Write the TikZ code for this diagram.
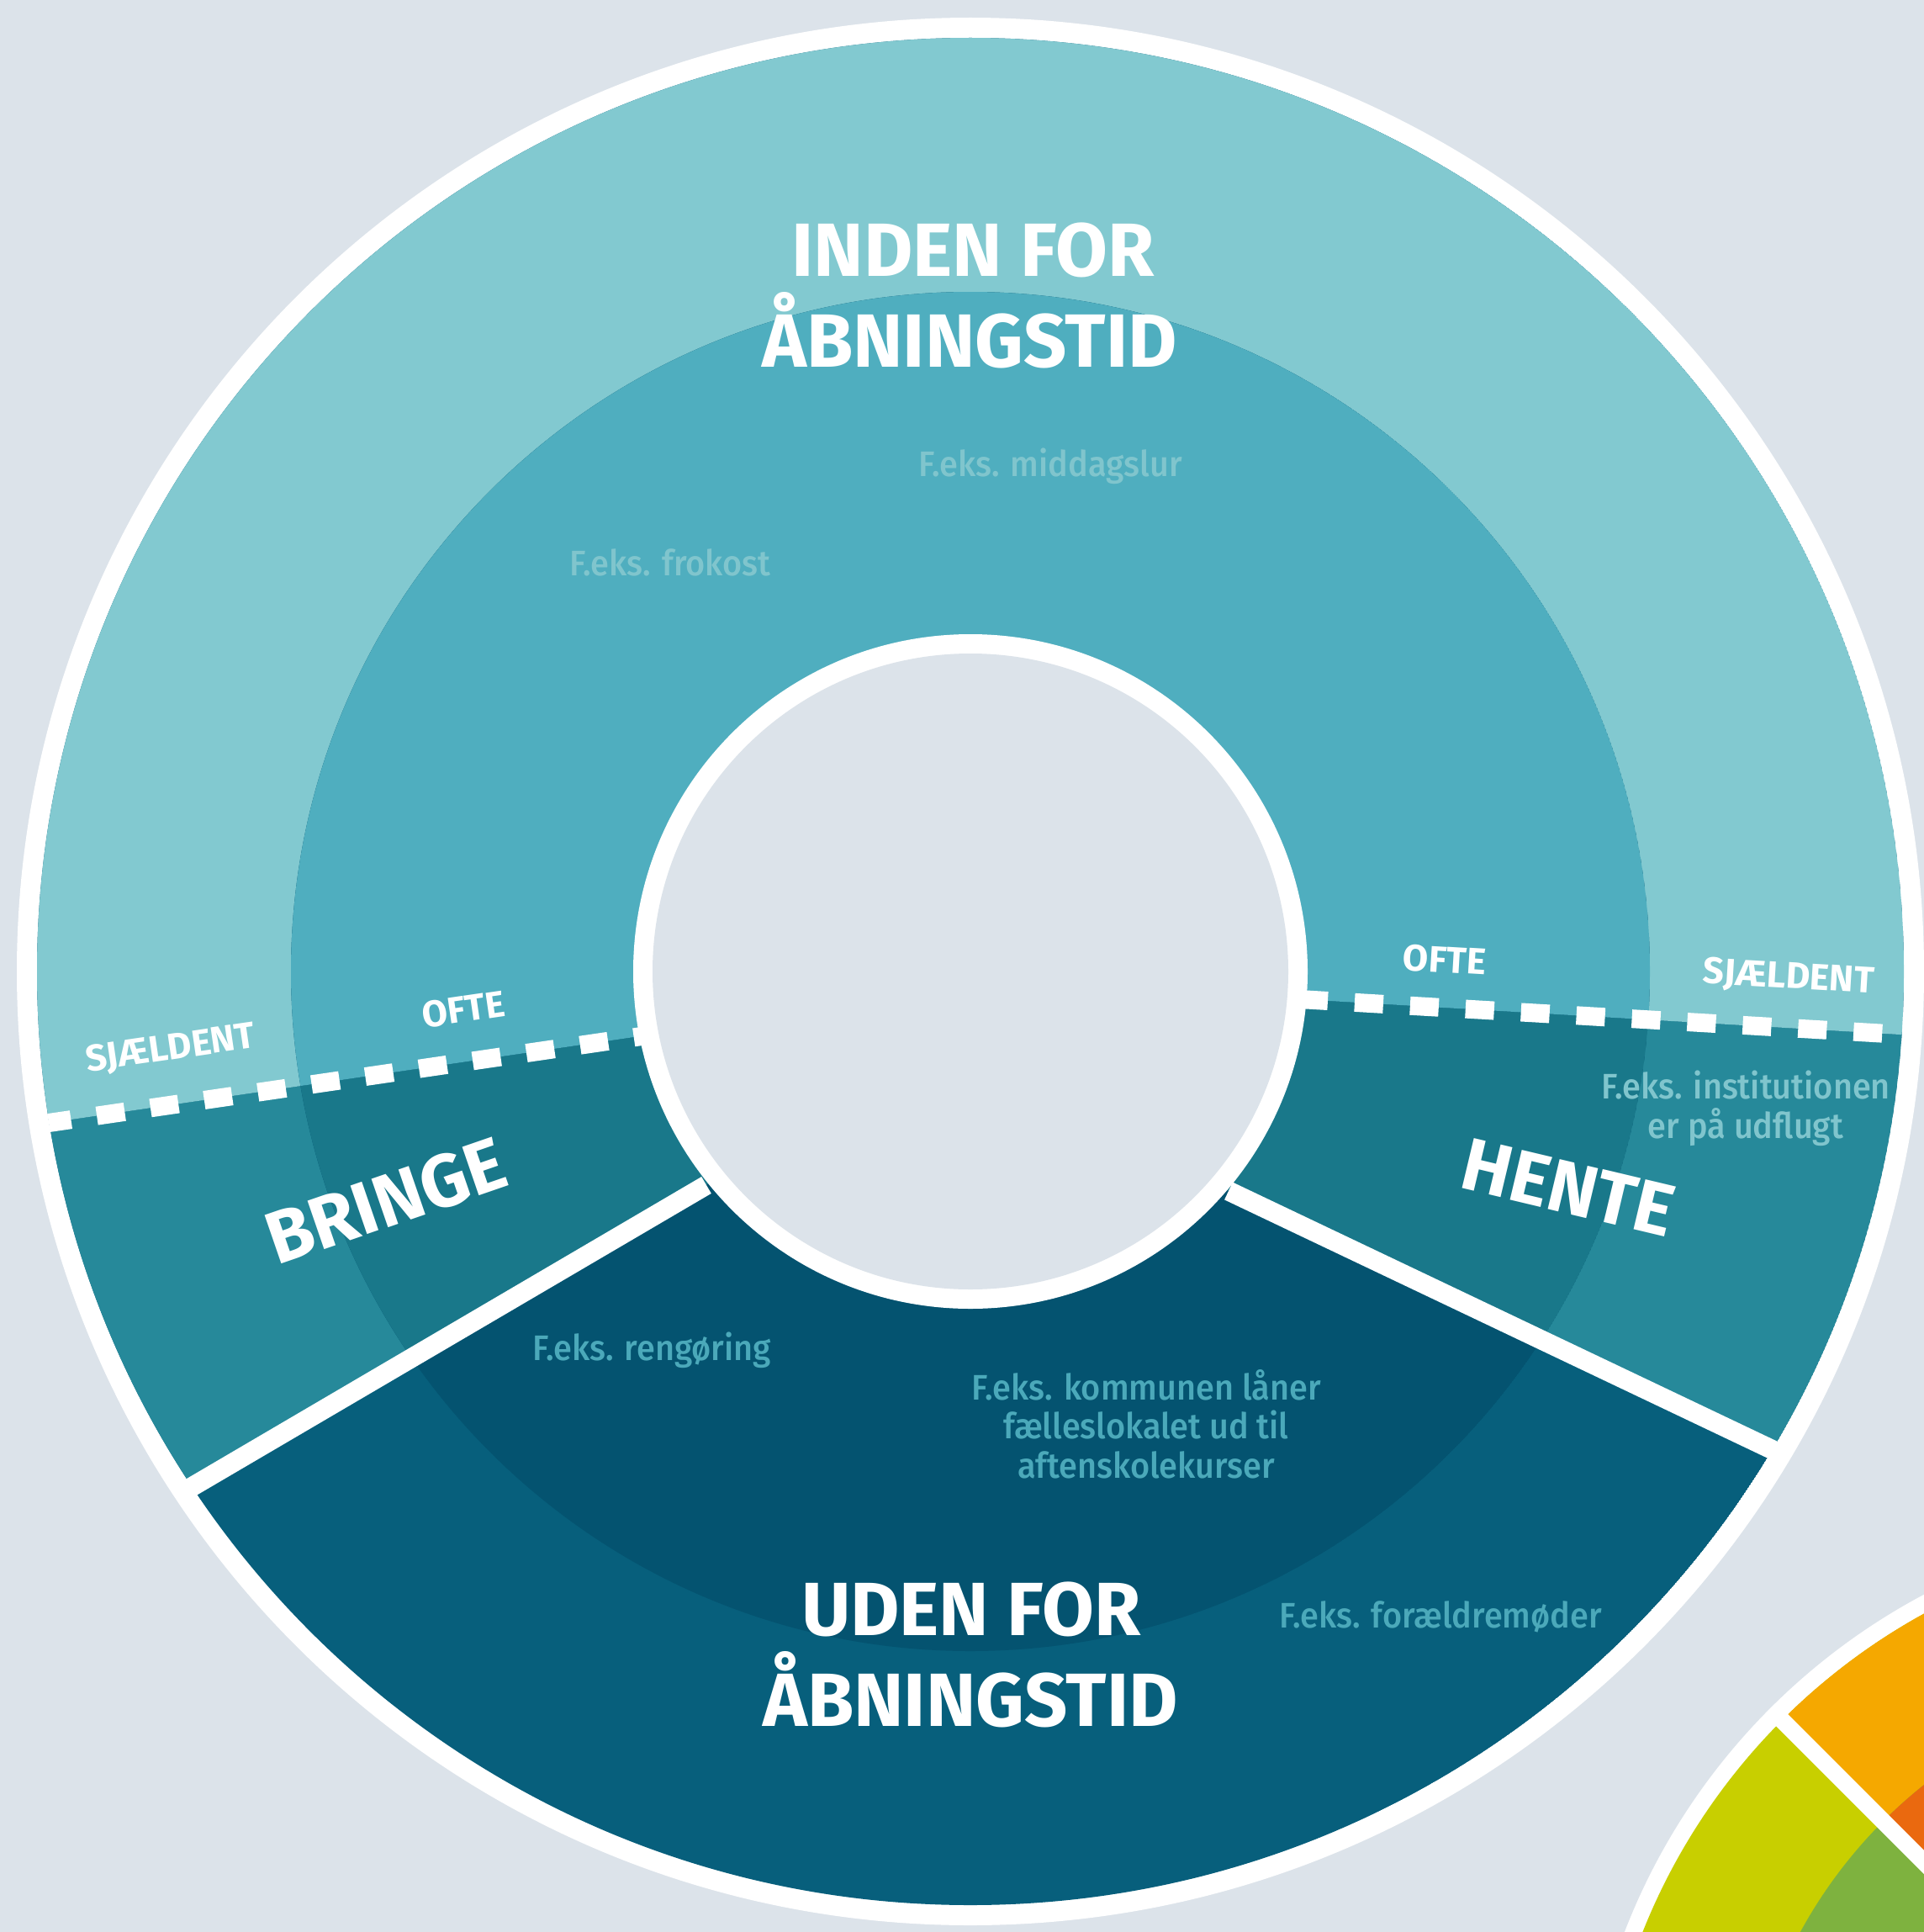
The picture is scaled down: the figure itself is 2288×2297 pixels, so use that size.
\documentclass[tikz,border=0pt]{standalone}
\usepackage{fontspec}
\setmainfont{Fira Sans}
\newfontfamily\headfont{Fira Sans}
\newfontfamily\notefont{Fira Sans Medium}[FakeStretch=0.94]

\definecolor{bgcol}{HTML}{DCE3EA}
\definecolor{topout}{HTML}{82C9D0}
\definecolor{topin}{HTML}{4FAEBF}
\definecolor{sideout}{HTML}{26899A}
\definecolor{sidein}{HTML}{19788A}
\definecolor{botout}{HTML}{075F7C}
\definecolor{botin}{HTML}{045370}
\definecolor{orangeout}{HTML}{F5A800}
\definecolor{orangein}{HTML}{EA690F}
\definecolor{limeout}{HTML}{C8CF00}
\definecolor{limein}{HTML}{7EB23F}
\definecolor{notelight}{HTML}{80C5CD}
\definecolor{notedark}{HTML}{4BA9BA}

\begin{document}
\begin{tikzpicture}[x=0.01cm, y=-0.01cm,
    title/.style={font=\headfont\bfseries\fontsize{25.5pt}{30pt}\selectfont, text=white, inner sep=0pt},
    segname/.style={font=\headfont\bfseries\fontsize{25pt}{30pt}\selectfont, text=white, inner sep=0pt},
    freq/.style={font=\headfont\bfseries\fontsize{12.5pt}{15pt}\selectfont, text=white, inner sep=0pt},
    note/.style={font=\notefont\fontsize{12pt}{13.2pt}\selectfont, inner sep=0pt, align=center},
    dashline/.style={white, line width=0.22cm},
    sepline/.style={white, line width=0.23cm}]

    \useasboundingbox (0,0) rectangle (2288,2297);
    \fill[bgcol] (0,0) rectangle (2288,2297);

    % second wheel (corner)
    \begin{scope}
        \clip (0,0) rectangle (2288,2297);
        \coordinate (c2) at (2646,2572);
        \coordinate (sep2-out) at (2108,2034);
        \fill[white] (c2) circle[radius=765];
        \foreach \rad/\cone/\ctwo in {745/limeout/orangeout, 575/limein/orangein}{
            \begin{scope}
                \clip (c2) circle[radius=\rad];
                \fill[\cone] (c2) circle[radius=\rad];
                \fill[\ctwo] (1646,1572) -- (3646,3572) -- (3646,1572) -- cycle;
            \end{scope}
        }
        \draw[white, line width=0.2cm] (c2) -- (sep2-out);
    \end{scope}

    % main wheel
    \coordinate (c) at (1154,1155);
    \coordinate (dashL-out) at (58,1335);
    \coordinate (dashL-in) at (770,1231);
    \coordinate (dashR-in) at (1545,1188);
    \coordinate (dashR-out) at (2262,1230);
    \coordinate (sepL-in) at (840,1409);
    \coordinate (sepL-out) at (226,1769);
    \coordinate (sepR-in) at (1461,1416);
    \coordinate (sepR-out) at (2119,1729);

    \fill[white] (c) circle[radius=1134];
    \foreach \rad/\ctop/\cside/\cbot in {1110/topout/sideout/botout, 808/topin/sidein/botin}{
        \begin{scope}
            \clip (c) circle[radius=\rad];
            \fill[\cbot] (c) circle[radius=\rad];
            \fill[\cside] (-400,1402) -- (870,1216) -- (926,1358) -- (-200,2019) -- cycle;
            \fill[\cside] (2700,1256) -- (1445,1182) -- (1371,1373) -- (2700,2006) -- cycle;
            \fill[\ctop] (-400,1402) -- (870,1216) -- (1154,1155) -- (1445,1182)
                -- (2700,1256) -- (2700,-400) -- (-400,-400) -- cycle;
        \end{scope}
    }

    % dividers
    \draw[dashline, dash pattern=on 0.335cm off 0.31cm, dash phase=0.068cm] (dashL-out) -- (dashL-in);
    \draw[dashline, dash pattern=on 0.34cm off 0.32cm] (dashR-in) -- (dashR-out);
    \draw[sepline] (sepL-in) -- (sepL-out);
    \draw[sepline] (sepR-in) -- (sepR-out);

    % hole
    \fill[white] (c) circle[radius=401];
    \fill[bgcol] (c) circle[radius=378];

    % labels
    \node[title, anchor=base] (inden1) at (1157,328) {INDEN FOR};
    \node[title, anchor=base] (inden2) at (1153,436) {ÅBNINGSTID};
    \node[title, anchor=base] (uden1) at (1155,1944) {UDEN FOR};
    \node[title, anchor=base] (uden2) at (1154,2052) {ÅBNINGSTID};
    \node[segname, rotate=19] (bringe) at (459,1428) {BRINGE};
    \node[segname, rotate=-13.4] (hente) at (1865,1412) {HENTE};
    \node[freq, rotate=8.3] (sjaeldentL) at (203,1248) {SJÆLDENT};
    \node[freq, rotate=8.3] (ofteL) at (551,1200) {OFTE};
    \node[freq, rotate=-3.4] (ofteR) at (1718,1141) {OFTE};
    \node[freq, rotate=-3.4] (sjaeldentR) at (2127,1163) {SJÆLDENT};

    \node[note, text=notelight, anchor=base] (middag) at (1249,566) {F.eks. middagslur};
    \node[note, text=notelight, anchor=base] (frokost) at (797,684) {F.eks. frokost};
    \node[note, text=notelight, anchor=base] (udflugt) at (2076,1353) {F.eks. institutionen\\er på udflugt};
    \node[note, text=notedark, anchor=base] (rengoring) at (775,1617) {F.eks. rengøring};
    \node[note, text=notedark, anchor=base] (kommune) at (1363,1757) {F.eks. kommunen låner\\fælleslokalet ud til\\aftenskolekurser};
    \node[note, text=notedark, anchor=base] (foraeldre) at (1713,1935) {F.eks. forældremøder};
\end{tikzpicture}
\end{document}
